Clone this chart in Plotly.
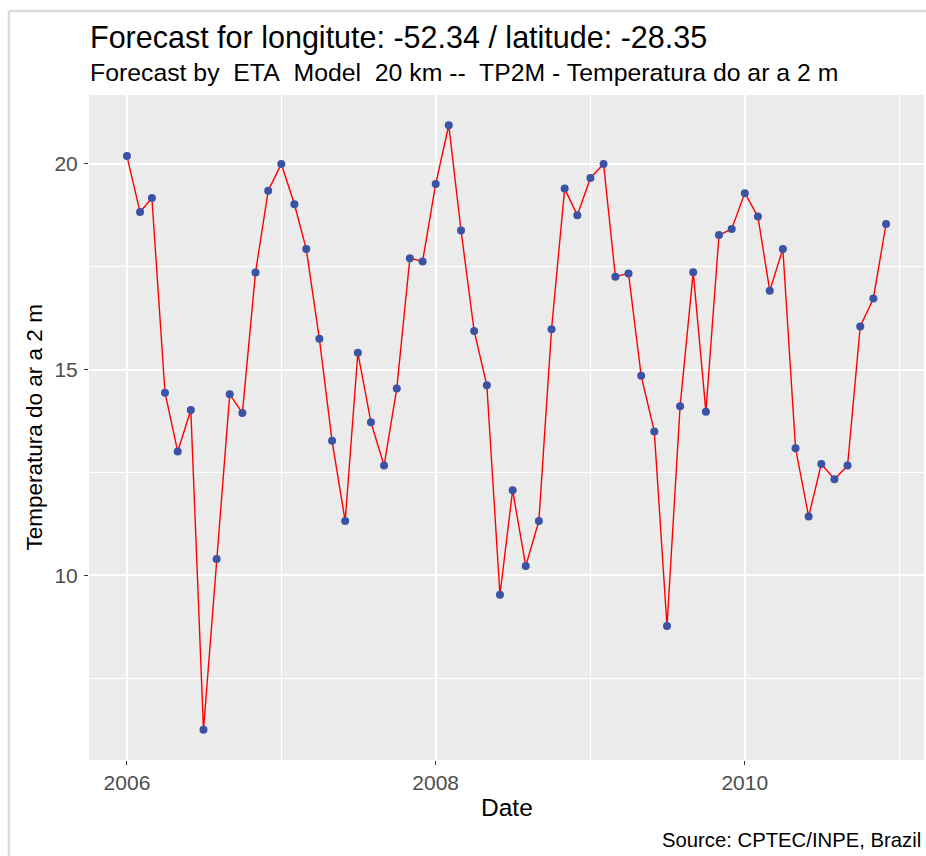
import pandas as pd
import plotly.graph_objects as go

# ---- data ----
dates = [
    "2006-01-01", "2006-02-01", "2006-03-01", "2006-04-01", "2006-05-01", "2006-06-01",
    "2006-07-01", "2006-08-01", "2006-09-01", "2006-10-01", "2006-11-01", "2006-12-01",
    "2007-01-01", "2007-02-01", "2007-03-01", "2007-04-01", "2007-05-01", "2007-06-01",
    "2007-07-01", "2007-08-01", "2007-09-01", "2007-10-01", "2007-11-01", "2007-12-01",
    "2008-01-01", "2008-02-01", "2008-03-01", "2008-04-01", "2008-05-01", "2008-06-01",
    "2008-07-01", "2008-08-01", "2008-09-01", "2008-10-01", "2008-11-01", "2008-12-01",
    "2009-01-01", "2009-02-01", "2009-03-01", "2009-04-01", "2009-05-01", "2009-06-01",
    "2009-07-01", "2009-08-01", "2009-09-01", "2009-10-01", "2009-11-01", "2009-12-01",
    "2010-01-01", "2010-02-01", "2010-03-01", "2010-04-01", "2010-05-01", "2010-06-01",
    "2010-07-01", "2010-08-01", "2010-09-01", "2010-10-01", "2010-11-01", "2010-12-01",
]
temperature = [
    20.19, 18.83, 19.17, 14.44, 13.01, 14.02, 6.25, 10.40, 14.40, 13.95, 17.36, 19.35,
    20.00, 19.02, 17.93, 15.75, 13.27, 11.32, 15.41, 13.72, 12.67, 14.54, 17.71, 17.63,
    19.51, 20.94, 18.38, 15.94, 14.62, 9.53, 12.07, 10.23, 11.32, 15.98, 19.40, 18.75,
    19.66, 20.00, 17.26, 17.34, 14.85, 13.50, 8.77, 14.11, 17.37, 13.98, 18.27, 18.42,
    19.29, 18.72, 16.92, 17.93, 13.09, 11.43, 12.71, 12.34, 12.67, 16.05, 16.73, 18.54,
]
y_ticks = [10, 15, 20]
x_tick_labels = ["2006", "2008", "2010"]

title_text = "Forecast for longitute: -52.34 / latitude: -28.35"
subtitle_text = "Forecast by\u00a0 ETA\u00a0 Model\u00a0 20 km --\u00a0 TP2M - Temperatura do ar a 2 m"
x_title = "Date"
y_title = "Temperatura do ar a 2 m"
caption_text = "Source: CPTEC/INPE, Brazil"

FONT = "Liberation Sans, Arial, sans-serif"

# ggplot-like 5% expansion of scales
d = pd.to_datetime(pd.Series(dates))
span = d.max() - d.min()
x_range = [d.min() - span * 0.05, d.max() + span * 0.05]
ymin, ymax = min(temperature), max(temperature)
yspan = ymax - ymin
y_range = [ymin - 0.05 * yspan, ymax + 0.05 * yspan]

fig = go.Figure()
fig.add_trace(go.Scatter(
    x=dates, y=temperature, mode="lines",
    line=dict(color="#FF0000", width=1.4),
    showlegend=False, hoverinfo="skip",
))
fig.add_trace(go.Scatter(
    x=dates, y=temperature, mode="markers",
    marker=dict(color="#3A53A4", size=8, line=dict(width=0)),
    showlegend=False,
))

fig.update_layout(
    width=926, height=856,
    margin=dict(l=89, r=2, t=95, b=96),
    paper_bgcolor="white",
    plot_bgcolor="#EBEBEB",
    font=dict(family=FONT, color="#4D4D4D"),
    showlegend=False,
)

fig.update_xaxes(
    type="date", range=x_range,
    tickmode="array",
    tickvals=[f"{t}-01-01" for t in x_tick_labels],
    ticktext=x_tick_labels,
    showgrid=True, gridcolor="white", gridwidth=2,
    minor=dict(dtick="M12", tick0="2006-01-01", showgrid=True,
               gridcolor="white", gridwidth=1, ticklen=0),
    ticks="outside", ticklen=4, tickwidth=1.2, tickcolor="#333333",
    tickfont=dict(family=FONT, size=21, color="#4D4D4D"),
    zeroline=False, showline=False,
)
fig.update_yaxes(
    range=y_range,
    tickmode="array", tickvals=y_ticks, ticktext=[str(v) for v in y_ticks],
    showgrid=True, gridcolor="white", gridwidth=2,
    minor=dict(dtick=2.5, tick0=0, showgrid=True,
               gridcolor="white", gridwidth=1, ticklen=0),
    ticks="outside", ticklen=4, tickwidth=1.2, tickcolor="#333333",
    tickfont=dict(family=FONT, size=21, color="#4D4D4D"),
    ticklabelstandoff=2,
    zeroline=False, showline=False,
)

annotations = [
    dict(text=title_text, x=0, y=1, xref="paper", yref="paper",
         xanchor="left", yanchor="middle", xshift=-1, yshift=58,
         showarrow=False, font=dict(family=FONT, size=30.5, color="black")),
    dict(text=subtitle_text, x=0, y=1, xref="paper", yref="paper",
         xanchor="left", yanchor="middle", xshift=-1, yshift=23,
         showarrow=False, font=dict(family=FONT, size=24.8, color="black")),
    dict(text=x_title, x=0.5, y=0, xref="paper", yref="paper",
         xanchor="center", yanchor="middle", yshift=-47,
         showarrow=False, font=dict(family=FONT, size=24.5, color="black")),
    dict(text=y_title, x=0, y=0.5, xref="paper", yref="paper",
         xanchor="center", yanchor="middle", xshift=-55, textangle=-90,
         showarrow=False, font=dict(family=FONT, size=22.5, color="black")),
    dict(text=caption_text, x=1, y=0, xref="paper", yref="paper",
         xanchor="right", yanchor="middle", xshift=-1, yshift=-80,
         showarrow=False, font=dict(family=FONT, size=20.3, color="black")),
]
fig.update_layout(annotations=annotations)

# light grey frame of the surrounding panel (top and left edges)
fig.add_shape(type="line", xref="paper", yref="paper",
              x0=(9 - 89) / 835, x1=(9 - 89) / 835,
              y0=(760 - 860) / 665, y1=(760 - 11) / 665,
              line=dict(color="#DCDCDC", width=2.5), layer="below")
fig.add_shape(type="line", xref="paper", yref="paper",
              x0=(9 - 89) / 835, x1=(930 - 89) / 835,
              y0=(760 - 11) / 665, y1=(760 - 11) / 665,
              line=dict(color="#DCDCDC", width=2.5), layer="below")

fig.write_html(
    "out.html",
    config={"displayModeBar": False},
    post_script="document.body.style.margin='0';document.body.style.overflow='hidden';",
)
